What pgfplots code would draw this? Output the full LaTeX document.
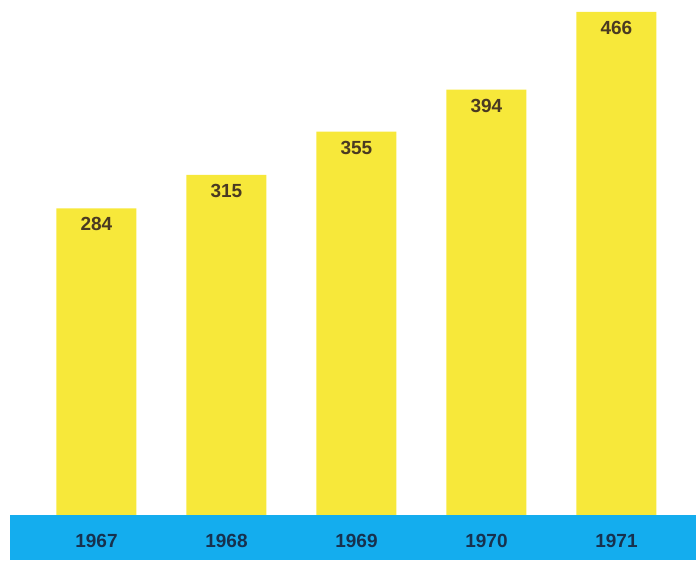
\documentclass[border=0pt]{standalone}
\usepackage{pgfplots}
\pgfplotsset{compat=1.18}
\usepackage{fontspec}
\setmainfont{Liberation Sans}

\definecolor{barYellow}{HTML}{F7E83A}
\definecolor{bandBlue}{HTML}{14ADEE}
\definecolor{valText}{HTML}{4A3A22}
\definecolor{yearText}{HTML}{17314E}

\pgfplotstableread{
idx value
0 284
1 315
2 355
3 394
4 466
}\sales

\begin{document}
\begin{tikzpicture}[
  year/.style={font=\fontsize{19}{19}\selectfont\bfseries, text=yearText}]
\begin{axis}[
  scale only axis,
  width=696pt, height=560pt,
  xmin=-0.742, xmax=4.612,
  ymin=-41.7, ymax=476.9,
  axis lines=none,
  ticks=none,
  clip=false,
  /pgf/number format/assume math mode=true,
]

% keep the whole plot area in the page
\path (rel axis cs:0,0) rectangle (rel axis cs:1,1);

% blue band at the foot
\addplot[draw=none, fill=bandBlue] coordinates
  {(-0.665,-41.7) (4.612,-41.7) (4.612,0) (-0.665,0)} -- cycle;

% bars
\addplot[ybar, bar width=0.615, draw=none, fill=barYellow,
  nodes near coords,
  every node near coord/.append style={anchor=center, yshift=-16pt,
    font=\fontsize{19}{19}\selectfont\bfseries, text=valText}]
  table[x=idx, y=value] {\sales};

% year labels in the band
\node[year] at (axis cs:0,-24.5) {1967};
\node[year] at (axis cs:1,-24.5) {1968};
\node[year] at (axis cs:2,-24.5) {1969};
\node[year] at (axis cs:3,-24.5) {1970};
\node[year] at (axis cs:4,-24.5) {1971};

\end{axis}
\end{tikzpicture}
\end{document}
